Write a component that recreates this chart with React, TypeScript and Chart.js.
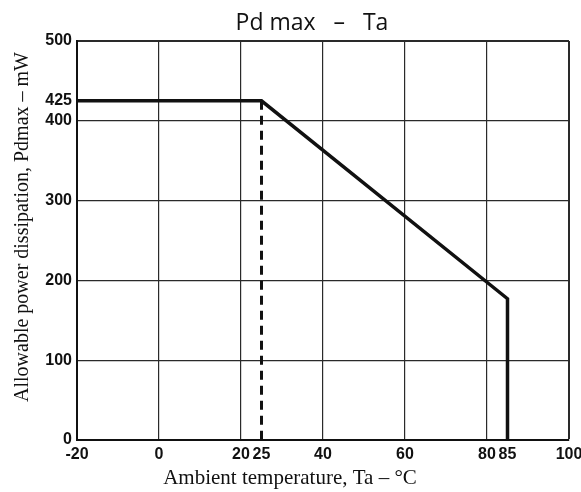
import React, { useEffect, useRef } from "react";
import { Chart, registerables } from "chart.js";

Chart.register(...registerables);

// ---- data ----
const CURVE_TA = [-20, 25, 85, 85];
const CURVE_PD = [425, 425, 177, 0];
const DASH_TA = [25, 25];
const DASH_PD = [425, 0];

const X_TICKS = [-20, 0, 20, 25, 40, 60, 80, 85, 100];
const X_GRID = [-20, 0, 20, 40, 60, 80, 100];
const Y_TICKS = [0, 100, 200, 300, 400, 425, 500];
const Y_GRID = [0, 100, 200, 300, 400, 500];

const TITLE = "Pd max   \u2013   Ta";
const X_TITLE = "Ambient temperature, Ta \u2013 \u00B0C";
const Y_TITLE = "Allowable power dissipation, Pdmax \u2013 mW";

const TICK_FONT = '"Liberation Sans", Arial, sans-serif';

const titlesPlugin = {
  id: "customTitles",
  afterDraw(chart: any) {
    const ctx = chart.ctx;
    ctx.save();
    ctx.fillStyle = "#111";
    ctx.textAlign = "center";
    ctx.textBaseline = "alphabetic";
    ctx.font = '23px "Open Sans", sans-serif';
    ctx.fillText(TITLE, 312, 30);
    ctx.font = '21px "Liberation Serif", serif';
    ctx.fillText(X_TITLE, 290, 484);
    ctx.translate(23, 227);
    ctx.rotate(-Math.PI / 2);
    ctx.textBaseline = "middle";
    ctx.font = '20px "Liberation Serif", serif';
    ctx.fillText(Y_TITLE, 0, 0);
    ctx.restore();
  },
};

export default function App() {
  const ref = useRef<HTMLCanvasElement | null>(null);

  useEffect(() => {
    if (!ref.current) return;
    const chart = new Chart(ref.current, {
      type: "line",
      data: {
        datasets: [
          {
            data: CURVE_TA.map((x, i) => ({ x, y: CURVE_PD[i] })),
            borderColor: "#111",
            borderWidth: 3.5,
            pointRadius: 0,
            borderJoinStyle: "miter",
            tension: 0,
          },
          {
            data: DASH_TA.map((x, i) => ({ x, y: DASH_PD[i] })),
            borderColor: "#111",
            borderWidth: 3,
            borderDash: [9, 6],
            pointRadius: 0,
          },
        ],
      },
      options: {
        responsive: false,
        animation: false,
        layout: { padding: { top: 41, right: 12, bottom: 0, left: 0 } },
        plugins: {
          legend: { display: false },
          tooltip: { enabled: false },
          title: { display: false },
        },
        scales: {
          x: {
            type: "linear",
            min: -20,
            max: 100,
            afterBuildTicks: (s: any) => {
              s.ticks = X_TICKS.map((value) => ({ value }));
            },
            afterFit: (s: any) => {
              s.height = 52;
              s.paddingLeft = 0;
              s.paddingRight = 0;
            },
            ticks: {
              autoSkip: false,
              maxRotation: 0,
              padding: 5,
              color: "#111",
              font: { family: TICK_FONT, size: 16, weight: "bold" },
              callback: (v: any) => String(v),
            },
            grid: {
              drawTicks: false,
              color: (c: any) =>
                c.tick && X_GRID.includes(c.tick.value) ? "#2a2a2a" : "rgba(0,0,0,0)",
              lineWidth: (c: any) => (c.tick && c.tick.value === 100 ? 2 : 1.2),
            },
            border: { display: true, color: "#111", width: 2 },
          },
          y: {
            type: "linear",
            min: 0,
            max: 500,
            afterBuildTicks: (s: any) => {
              s.ticks = Y_TICKS.map((value) => ({ value }));
            },
            afterFit: (s: any) => {
              s.width = 77;
              s.paddingTop = 0;
              s.paddingBottom = 0;
            },
            ticks: {
              autoSkip: false,
              padding: 5,
              color: "#111",
              font: { family: TICK_FONT, size: 16, weight: "bold" },
              callback: (v: any) => String(v),
            },
            grid: {
              drawTicks: false,
              color: (c: any) =>
                c.tick && Y_GRID.includes(c.tick.value) ? "#2a2a2a" : "rgba(0,0,0,0)",
              lineWidth: (c: any) => (c.tick && c.tick.value === 500 ? 2 : 1.2),
            },
            border: { display: true, color: "#111", width: 2 },
          },
        },
      },
      plugins: [titlesPlugin],
    } as any);
    return () => chart.destroy();
  }, []);

  return (
    <div style={{ position: "absolute", left: 0, top: 0, width: 581, height: 492, background: "#fff" }}>
      <canvas ref={ref} width={581} height={492} style={{ display: "block" }} />
    </div>
  );
}
